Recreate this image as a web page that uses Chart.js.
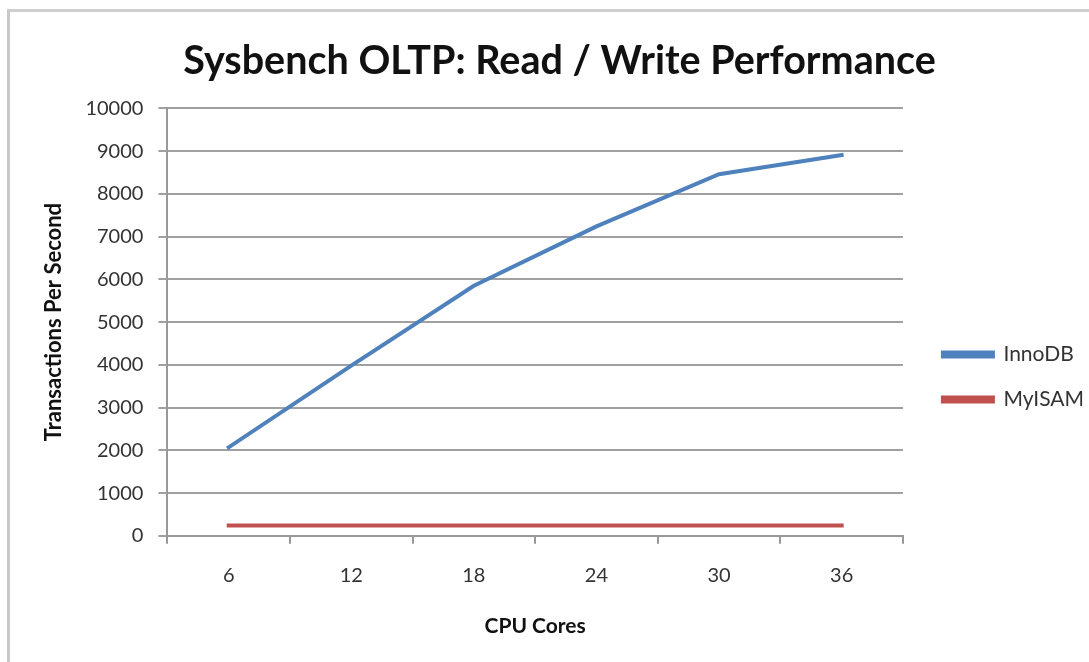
<!DOCTYPE html>
<html>
<head>
<meta charset="utf-8">
<script src="https://cdn.jsdelivr.net/npm/chart.js@4.4.1/dist/chart.umd.min.js"></script>
<style>
  html, body { margin: 0; padding: 0; background: #ffffff; overflow: hidden; }
  #frame { position: absolute; left: 7px; top: 9px; width: 1200px; height: 800px;
           border-left: 3px solid #c8c8c8; border-top: 3px solid #cfcfcf; box-sizing: border-box; }
  #wrap { position: absolute; left: 0; top: 0; width: 1089px; height: 662px; }
</style>
</head>
<body>
<div id="frame"></div>
<div id="wrap"><canvas id="c" width="1089" height="662"></canvas></div>
<script>
const categories = ['6', '12', '18', '24', '30', '36'];
const innodbValues = [2070, 3980, 5850, 7240, 8460, 8910];
const myisamValues = [240, 240, 240, 240, 240, 240];
const yTicks = [0, 1000, 2000, 3000, 4000, 5000, 6000, 7000, 8000, 9000, 10000];

const FONT = 'Lato, "Open Sans", sans-serif';

const legendShift = {
  id: 'legendShift',
  afterLayout(chart) {
    const lg = chart.legend;
    if (!lg) return;
    const dx = 16, dy = 320;
    lg.left += dx; lg.right += dx;
    lg.top += dy; lg.bottom += dy;
  }
};

new Chart(document.getElementById('c'), {
  type: 'line',
  data: {
    labels: categories,
    datasets: [
      { label: 'InnoDB', data: innodbValues, borderColor: '#4f81bd', backgroundColor: '#4f81bd',
        borderWidth: 4, pointRadius: 0, tension: 0, borderCapStyle: 'square' },
      { label: 'MyISAM', data: myisamValues, borderColor: '#c0504d', backgroundColor: '#c0504d',
        borderWidth: 4, pointRadius: 0, tension: 0, borderCapStyle: 'square' }
    ]
  },
  plugins: [legendShift],
  options: {
    responsive: false,
    animation: false,
    layout: { padding: { left: 41, right: 11, top: 0, bottom: 23 } },
    plugins: {
      title: { display: true, text: 'Sysbench OLTP: Read / Write Performance',
        color: '#111', font: { family: FONT, size: 39.5, weight: 'bold' },
        padding: { top: 38, bottom: 23 } },
      legend: { position: 'right', align: 'start',
        labels: { boxWidth: 50, boxHeight: 4, color: '#333', padding: 24,
          font: { family: FONT, size: 21 } } },
      tooltip: { enabled: false }
    },
    scales: {
      x: {
        offset: true,
        grid: { display: true, drawOnChartArea: false, drawTicks: true, tickLength: 8,
                offset: true, color: '#999', lineWidth: 2 },
        border: { display: true, color: '#999', width: 2 },
        ticks: { color: '#333', font: { family: FONT, size: 20 }, padding: 20 },
        title: { display: true, text: 'CPU Cores', color: '#111',
          font: { family: FONT, size: 21, weight: 'bold' }, padding: { top: 6, bottom: 0 } }
      },
      y: {
        min: 0, max: 10000,
        afterBuildTicks: (axis) => { axis.ticks = yTicks.map(v => ({ value: v })); },
        grid: { color: '#a0a0a0', lineWidth: 2, tickLength: 9 },
        border: { display: true, color: '#999', width: 2 },
        ticks: { color: '#333', font: { family: FONT, size: 20 }, padding: 15,
          callback: (v) => String(v) },
        title: { display: true, text: 'Transactions Per Second', color: '#111',
          font: { family: FONT, size: 22, weight: 'bold' }, padding: { top: 0, bottom: 3 } }
      }
    }
  }
});
</script>
</body>
</html>
